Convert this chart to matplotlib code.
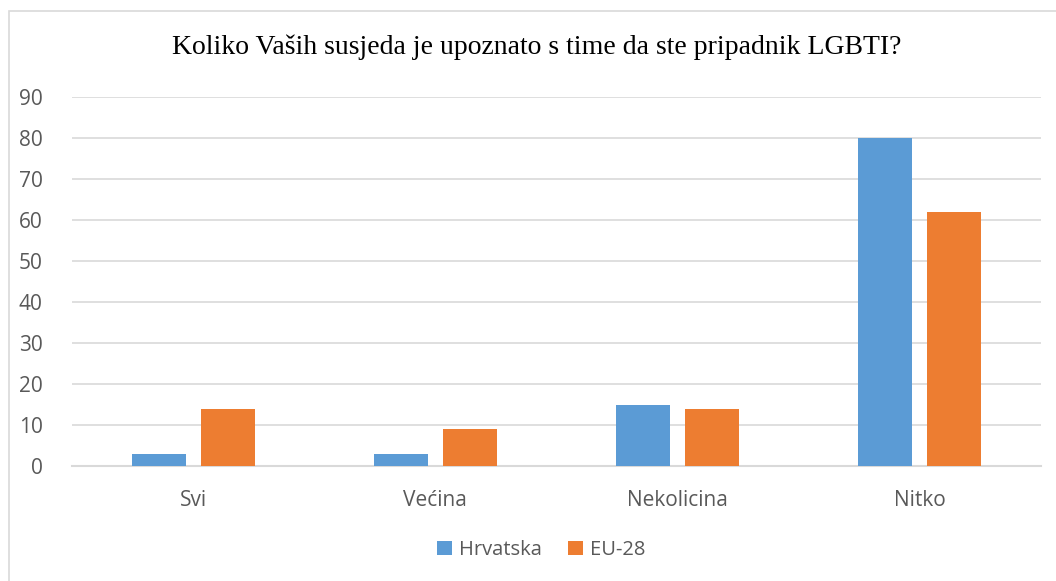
import matplotlib
matplotlib.use("Agg")
import matplotlib.pyplot as plt
import numpy as np
from matplotlib.patches import Rectangle

categories = ["Svi", "Većina", "Nekolicina", "Nitko"]
hrvatska = [3, 3, 15, 80]
eu28 = [14, 9, 14, 62]
series_names = ["Hrvatska", "EU-28"]
title = "Koliko Vaših susjeda je upoznato s time da ste pripadnik LGBTI?"
yticks = [0, 10, 20, 30, 40, 50, 60, 70, 80, 90]

W, H = 1056, 581
fig = plt.figure(figsize=(W / 100, H / 100), dpi=100)
fig.patch.set_facecolor("white")

# outer frame (top & left visible)
fig.add_artist(Rectangle((8.5 / W, -0.1), 1.2, (H - 10.5) / H + 0.1,
                         transform=fig.transFigure, fill=False,
                         edgecolor="#d9d9d9", linewidth=1.2))

ax = fig.add_axes([72 / W, (H - 466) / H, (1041 - 72) / W, (466 - 97) / H])
x = np.arange(len(categories))
bw = 0.223
off = 0.1425
ax.bar(x - off, hrvatska, bw, color="#5b9bd5", label=series_names[0], zorder=3)
ax.bar(x + off, eu28, bw, color="#ed7d31", label=series_names[1], zorder=3)

ax.set_xlim(-0.5, len(categories) - 0.5)
ax.set_ylim(0, 90)
ax.set_yticks(yticks)
ax.set_xticks(x)
ax.set_xticklabels(categories)
for s in ["top", "right", "left"]:
    ax.spines[s].set_visible(False)
ax.spines["bottom"].set_color("#d9d9d9")
ax.spines["bottom"].set_linewidth(1.5)
ax.yaxis.grid(True, color="#d9d9d9", linewidth=1.2, zorder=0)
ax.set_axisbelow(True)
ax.tick_params(axis="both", length=0, labelsize=15, labelcolor="#595959")
ax.tick_params(axis="y", pad=21)
ax.tick_params(axis="x", pad=17)
for lab in ax.get_xticklabels() + ax.get_yticklabels():
    lab.set_fontfamily("Open Sans")

fig.text(537 / W, (H - 47) / H, title, ha="center", va="center",
         fontsize=20, family="Liberation Serif", color="black")

leg = ax.legend(loc="center", bbox_to_anchor=(541 / W, (H - 550) / H),
                bbox_transform=fig.transFigure, ncol=2, frameon=False,
                handlelength=0.75, handleheight=0.75, handletextpad=0.35,
                columnspacing=1.3, prop={"family": "Open Sans", "size": 14.5})
for t in leg.get_texts():
    t.set_color("#595959")

fig.savefig("out.png", dpi=100)
